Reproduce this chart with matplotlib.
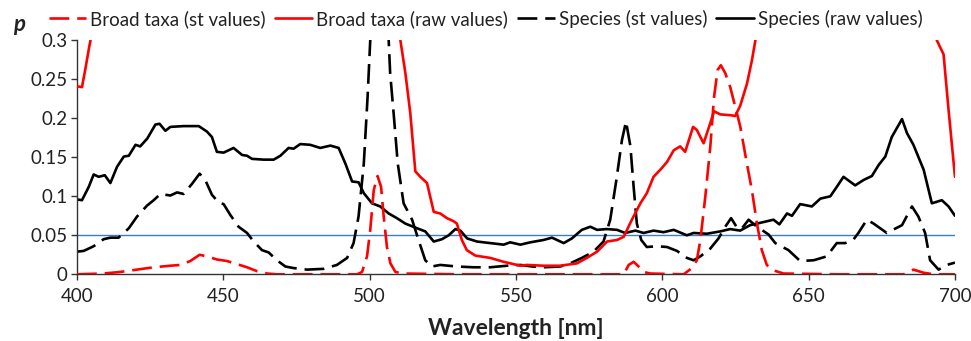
import matplotlib
matplotlib.use("Agg")
import matplotlib.pyplot as plt

# ---------------- data ----------------
# Species (raw values) - black solid
sp_raw_x = [400, 401.7, 404, 405.7, 407.4, 409.5, 411.4, 413.7, 416, 417.7, 420, 421.6, 424, 426.8, 428.2,
            430.2, 431.9, 436.4, 441.6, 444.4, 446.1, 447.8, 450.1, 453.5, 456.4, 458.1, 459.8, 463.8, 467.2,
            469.5, 472.3, 474, 476.3, 479.7, 483.1, 486.6, 489.4, 491.7, 494, 496.2, 498, 500.8, 503.6,
            506.5, 509.3, 512.2, 516.2, 519, 521.9, 524.7, 527, 529.3, 531, 533.3, 536.7, 541.2, 545.8,
            548, 551.5, 554.9, 559.4, 562.3, 566.3, 569.1, 572.5, 575.4, 577.7, 581, 584.5, 587.3, 590.8,
            593.6, 597, 600.4, 603.9, 608.4, 610.7, 615.2, 619.8, 623.2, 626.6, 630, 634.6, 638, 640,
            642.6, 644.3, 647.1, 651.1, 654, 657.4, 659.6, 661.9, 665.9, 668.8, 671.6, 673.9, 676.2,
            678.4, 681.9, 683.6, 685.8, 689.3, 692.1, 695.5, 697.8, 700]
sp_raw_y = [0.096, 0.095, 0.112, 0.128, 0.125, 0.127, 0.117, 0.138, 0.151, 0.152, 0.166, 0.164, 0.174, 0.192,
            0.193, 0.184, 0.189, 0.190, 0.190, 0.183, 0.176, 0.157, 0.156, 0.162, 0.153, 0.152, 0.148,
            0.147, 0.147, 0.152, 0.162, 0.161, 0.167, 0.166, 0.162, 0.165, 0.162, 0.142, 0.119, 0.118,
            0.104, 0.091, 0.087, 0.078, 0.072, 0.065, 0.059, 0.055, 0.042, 0.045, 0.050, 0.058, 0.056,
            0.046, 0.042, 0.040, 0.038, 0.041, 0.038, 0.041, 0.044, 0.047, 0.040, 0.046, 0.057, 0.061,
            0.057, 0.058, 0.057, 0.053, 0.056, 0.053, 0.056, 0.054, 0.057, 0.050, 0.053, 0.052, 0.055,
            0.058, 0.056, 0.063, 0.067, 0.070, 0.064, 0.078, 0.075, 0.090, 0.087, 0.097, 0.100, 0.112,
            0.125, 0.114, 0.121, 0.126, 0.140, 0.151, 0.176, 0.199, 0.181, 0.166, 0.134, 0.091, 0.095,
            0.087, 0.075]

# Species (st values) - black dashed
sp_st_x = [400, 402.3, 405.7, 409.1, 411.4, 414.2, 417.7, 420.5, 423.9, 426.2, 428.5, 431.9, 434.2, 436.4,
           439.3, 441.9, 443.8, 446.1, 448.4, 450.1, 452.4, 455.2, 458.1, 460.4, 463.2, 465.5, 468.3,
           471.2, 474, 478.6, 484.3, 488.8, 492.3, 494.5, 496.2, 498, 499.3, 500.2, 503, 506.5, 507,
           508.2, 509.6, 511.6, 514.5, 516.7, 519, 521.3, 524.1, 529.8, 535.5, 541.2, 546.9, 551.5,
           555.5, 559.4, 565.1, 568.5, 572.5, 576.5, 579.9, 582.2, 584.3, 586.2, 587.6, 589.1, 590.2,
           591.3, 592.8, 594.7, 598.2, 601.6, 605, 608.4, 610.7, 613, 616.4, 619.2, 621.5, 623.5,
           625.5, 627, 629.5, 632, 636.3, 638.6, 643.1, 647.1, 651.7, 656.2, 659.6, 662.5, 665.4, 667,
           669.9, 672.2, 676.7, 681.9, 685.3, 687.5, 689.8, 691.5, 694.4, 697.2, 700]
sp_st_y = [0.029, 0.030, 0.036, 0.045, 0.047, 0.047, 0.059, 0.074, 0.088, 0.095, 0.103, 0.101, 0.105, 0.103,
           0.116, 0.129, 0.121, 0.102, 0.092, 0.090, 0.076, 0.061, 0.053, 0.042, 0.031, 0.028, 0.018,
           0.010, 0.008, 0.006, 0.007, 0.012, 0.021, 0.040, 0.074, 0.142, 0.228, 0.300, 0.420, 0.300,
           0.258, 0.206, 0.142, 0.091, 0.070, 0.044, 0.018, 0.010, 0.012, 0.010, 0.009, 0.009, 0.011,
           0.012, 0.010, 0.009, 0.010, 0.014, 0.021, 0.029, 0.042, 0.070, 0.121, 0.172, 0.196, 0.164,
           0.112, 0.065, 0.044, 0.035, 0.036, 0.035, 0.030, 0.021, 0.018, 0.023, 0.033, 0.046, 0.061,
           0.072, 0.060, 0.058, 0.070, 0.062, 0.051, 0.040, 0.031, 0.017, 0.018, 0.023, 0.040, 0.040,
           0.045, 0.053, 0.070, 0.065, 0.053, 0.063, 0.087, 0.074, 0.053, 0.018, 0.006, 0.012, 0.015]

# Broad taxa (raw values) - red solid
bt_raw_x = [400, 401.7, 402.8, 404, 404.6, 406, 460, 509, 510.5, 512.2, 513.9, 515.6, 517.3, 519.6,
            521.9, 524.1, 526.4, 528.7, 529.8, 531.5, 533.2, 536.1, 541.2, 545.8, 551.5, 553.7, 559.4,
            565.1, 570.8, 574.2, 577.7, 581.1, 584.5, 586.8, 589.6, 592.5, 594.7, 597, 599.3, 601.6,
            603.9, 606.1, 607.8, 610.5, 611.8, 614.1, 616.4, 617.7, 619.8, 623.2, 624.9, 626.6, 628.9,
            630.6, 631.8, 633, 660, 692.5, 693.8, 696.1, 697.8, 700]
bt_raw_y = [0.241, 0.240, 0.262, 0.288, 0.300, 0.36, 0.5, 0.36, 0.300, 0.258, 0.206, 0.132, 0.125, 0.117,
            0.080, 0.078, 0.072, 0.068, 0.065, 0.044, 0.031, 0.024, 0.021, 0.016, 0.011, 0.012, 0.011,
            0.011, 0.014, 0.021, 0.029, 0.042, 0.044, 0.048, 0.070, 0.091, 0.104, 0.125, 0.134, 0.144,
            0.159, 0.164, 0.157, 0.189, 0.185, 0.168, 0.194, 0.209, 0.205, 0.204, 0.203, 0.216, 0.244,
            0.274, 0.300, 0.36, 0.5, 0.36, 0.300, 0.282, 0.211, 0.125]

# Broad taxa (st values) - red dashed
bt_st_x = [400, 409, 414.8, 420.5, 426.2, 431.9, 435.3, 438.7, 441.9, 444.4, 447.8, 451.3, 454.7, 458.1,
           461.5, 464.9, 468.3, 480, 495.7, 497.4, 499.1, 500.2, 501.4, 502.7, 503.9, 504.8, 505.9,
           507.1, 508.8, 511.6, 530, 560, 586.8, 588.5, 590.2, 591.9, 593.6, 595.9, 607.3, 610.1,
           611.8, 613, 614.7, 616.4, 617.7, 618.9, 620, 621.5, 623.2, 624.9, 626.6, 628.9, 630.6,
           632.3, 634, 635.7, 638, 641.4, 660, 682.4, 685.8, 689.3, 692.7, 700]
bt_st_y = [0.000, 0.001, 0.003, 0.006, 0.009, 0.011, 0.012, 0.017, 0.025, 0.023, 0.019, 0.017, 0.013, 0.009,
           0.004, 0.001, 0.000, 0.000, 0.000, 0.003, 0.023, 0.057, 0.108, 0.126, 0.112, 0.074, 0.035,
           0.014, 0.003, 0.001, 0.000, 0.000, 0.000, 0.012, 0.016, 0.010, 0.003, 0.001, 0.000, 0.008,
           0.018, 0.044, 0.100, 0.164, 0.228, 0.262, 0.268, 0.258, 0.240, 0.215, 0.190, 0.142, 0.108,
           0.066, 0.031, 0.012, 0.005, 0.001, 0.000, 0.000, 0.006, 0.002, 0.000, 0.000]

threshold = 0.05
x_ticks = [400, 450, 500, 550, 600, 650, 700]
y_ticks = [0, 0.05, 0.1, 0.15, 0.2, 0.25, 0.3]
y_tick_labels = ["0", "0.05", "0.1", "0.15", "0.2", "0.25", "0.3"]
series_labels = ["Broad taxa (st values)", "Broad taxa (raw values)",
                 "Species (st values)", "Species (raw values)"]

# ---------------- figure ----------------
FONT = ["Lato", "DejaVu Sans"]
plt.rcParams['font.family'] = FONT

fig = plt.figure(figsize=(9.71, 3.41), dpi=100)
ax = fig.add_axes([0.0793, 0.1956, 0.9042, 0.6862])

RED = "#ff0000"
lw = 1.9
dash = (7.5, 3)
common = dict(solid_joinstyle="round", dash_joinstyle="round", solid_capstyle="round")

ax.axhline(threshold, color="#3a7dc9", lw=1.0, zorder=1)
l1, = ax.plot(bt_st_x, bt_st_y, color=RED, lw=lw, dashes=dash, label=series_labels[0], zorder=3, **common)
l2, = ax.plot(bt_raw_x, bt_raw_y, color=RED, lw=lw, label=series_labels[1], zorder=3, **common)
l3, = ax.plot(sp_st_x, sp_st_y, color="black", lw=lw, dashes=dash, label=series_labels[2], zorder=2, **common)
l4, = ax.plot(sp_raw_x, sp_raw_y, color="black", lw=lw, label=series_labels[3], zorder=2, **common)

ax.set_xlim(400, 700)
ax.set_ylim(0, 0.3)
ax.set_xticks(x_ticks)
ax.set_xticklabels([str(t) for t in x_ticks])
ax.set_yticks(y_ticks)
ax.set_yticklabels(y_tick_labels)
for s in ["top", "right"]:
    ax.spines[s].set_visible(False)
for s in ["left", "bottom"]:
    ax.spines[s].set_color("#333333")
    ax.spines[s].set_linewidth(1.0)
ax.tick_params(axis="both", direction="out", length=4, width=1.0, color="#333333",
               labelsize=13.5, labelcolor="#222222")
ax.tick_params(axis="x", pad=6)
ax.tick_params(axis="y", pad=3)

ax.set_xlabel("Wavelength [nm]", fontsize=16.5, fontweight="bold", color="#222222", labelpad=9)
fig.text(0.013, 0.91, "p", fontsize=16, fontweight="bold", fontstyle="italic", color="#222222")

fig.legend(handles=[l1, l2, l3, l4], loc="center", bbox_to_anchor=(0.5, 0.945), ncol=4,
           frameon=False, fontsize=13.5, handlelength=2.0, handletextpad=0.2, columnspacing=0.5,
           labelcolor="#222222")

fig.savefig("out.png", dpi=100)
